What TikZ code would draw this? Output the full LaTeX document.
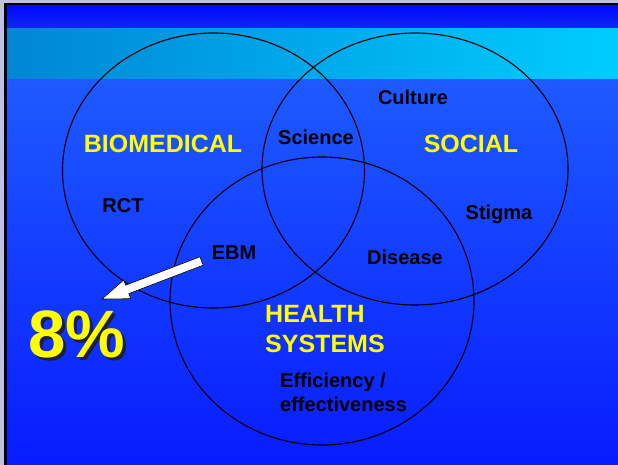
\documentclass[tikz,border=0pt]{standalone}
\usepackage{fontspec}
\setmainfont{Liberation Sans}
\usetikzlibrary{calc}
\definecolor{slideedge}{RGB}{192,192,224}
\definecolor{bandtop}{RGB}{0,10,255}
\definecolor{bandbot}{RGB}{16,40,240}
\definecolor{stripleft}{RGB}{0,134,212}
\definecolor{stripright}{RGB}{0,204,255}
\definecolor{maintop}{RGB}{30,90,255}
\definecolor{mainmid}{RGB}{46,166,255}
\definecolor{mainbot}{RGB}{8,28,255}
\definecolor{labelyellow}{RGB}{255,255,0}
\definecolor{pctshade}{RGB}{30,30,50}
\newcommand{\venn}[4]{\draw[line width=1.1pt] ( #1 , #2 ) ellipse [x radius=#3pt, y radius=#4pt];}
\newcommand{\shadowtext}[1]{\makebox[0pt][l]{\hspace{3pt}\raisebox{-3pt}{\color{pctshade}#1}}#1}

\begin{document}
\begin{tikzpicture}[x=1pt, y=-1pt,
    yellowlabel/.style={text=labelyellow, font=\bfseries\fontsize{25}{29}\selectfont, inner sep=0pt, anchor=base},
    blacklabel/.style={text=black, font=\bfseries\fontsize{20}{24}\selectfont, inner sep=0pt, anchor=base},
    bigpct/.style={font=\bfseries\fontsize{67}{70}\selectfont, inner sep=0pt, anchor=base west}]
    % background
    \useasboundingbox (0,0) rectangle (618,465);
    \fill[slideedge] (0,0) rectangle (618,465);
    \fill[black] (4,3) rectangle (618,465);
    \shade[top color=bandtop, bottom color=bandbot] (7,6) rectangle (618,29);
    \shade[left color=stripleft, right color=stripright] (7,29) rectangle (618,80);
    \shade[top color=maintop, middle color=mainmid, bottom color=mainbot] (7,80) rectangle (618,465);
    % circles
    \venn{213.5}{170.5}{151}{137.5}
    \venn{415}{169}{153}{136}
    \venn{322}{301}{152}{144}
    % domain names
    \node[yellowlabel] (bio) at (163,153) {BIOMEDICAL};
    \node[yellowlabel] (social) at (471,153) {SOCIAL};
    \node[yellowlabel, anchor=base west] (health) at (265,322) {HEALTH};
    \node[yellowlabel, anchor=base west] (systems) at (265,352) {SYSTEMS};
    % items
    \node[blacklabel] (culture) at (413,105) {Culture};
    \node[blacklabel] (science) at (316,145) {Science};
    \node[blacklabel] (rct) at (123,212) {RCT};
    \node[blacklabel] (stigma) at (499,219) {Stigma};
    \node[blacklabel] (ebm) at (234,259) {EBM};
    \node[blacklabel] (disease) at (405,264) {Disease};
    \node[blacklabel, anchor=base west] (effic) at (280,387) {Efficiency /};
    \node[blacklabel, anchor=base west] (effect) at (280,411) {effectiveness};
    % 8 percent
    \node[bigpct, text=labelyellow] (pct) at (28,357) {\shadowtext{8\%}};
    % arrow
    \coordinate (tail) at ($(ebm.base west)+(-10,2)$);
    \coordinate (tip) at (102,299);
    \coordinate (head) at ($(tip)!27pt!(tail)$);
    \filldraw[fill=white, draw=black, line width=0.6pt] (tip) -- ($(head)!10pt!-90:(tail)$)
        -- ($(head)!4.5pt!-90:(tail)$) -- ($(tail)!4.5pt!90:(head)$)
        -- ($(tail)!4.5pt!-90:(head)$) -- ($(head)!4.5pt!90:(tail)$)
        -- ($(head)!10pt!90:(tail)$) -- cycle;
\end{tikzpicture}
\end{document}
